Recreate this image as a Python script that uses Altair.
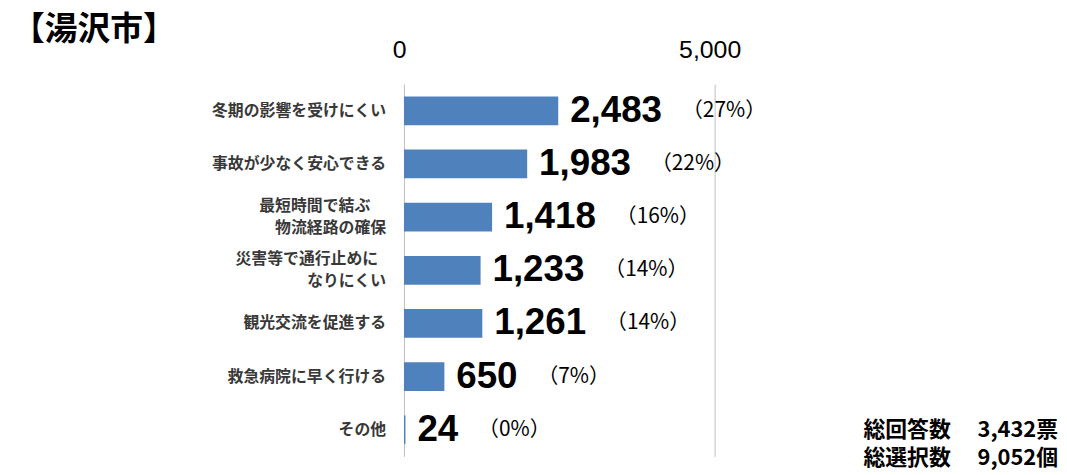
import altair as alt
import pandas as pd

categories = [
    "冬期の影響を受けにくい",
    "事故が少なく安心できる",
    "最短時間で結ぶ\u3000\n物流経路の確保",
    "災害等で通行止めに\u2002\nなりにくい",
    "観光交流を促進する",
    "救急病院に早く行ける",
    "その他",
]
values = [2483, 1983, 1418, 1233, 1261, 650, 24]
percents = ["27%", "22%", "16%", "14%", "14%", "7%", "0%"]
x_ticks = [0, 5000]
title_text = "【湯沢市】"
notes = ["総回答数\u3000 3,432票", "総選択数\u3000 9,052個"]

df = pd.DataFrame({"cat": categories, "value": values, "pct": percents})

JP = "Noto Sans CJK JP"
NUM = "Liberation Sans"
LABEL_FS = 16

x_enc = alt.X("value:Q", scale=alt.Scale(domain=[0, 5000], nice=False),
              axis=alt.Axis(orient="top", values=x_ticks, title=None,
                            labelExpr="format(datum.value, ',')",
                            labelFont=NUM, labelFontSize=25, labelColor="#000000",
                            labelPadding=22, labelFlush=False, labelOffset=-5,
                            ticks=False, domain=False,
                            grid=True, gridColor="#bfbfbf", gridWidth=1))
y_enc = alt.Y("cat:N", sort=None, title=None,
              scale=alt.Scale(paddingInner=0.46, paddingOuter=0.23),
              axis=alt.Axis(labels=False, ticks=False, domain=False, grid=False))

base = alt.Chart(df).encode(x=x_enc, y=y_enc)

bars = base.mark_bar(color="#4f81bd")

lines = base.transform_calculate(
    l1="split(datum.cat, '\\n')[0]",
    l2="length(split(datum.cat, '\\n')) > 1 ? split(datum.cat, '\\n')[1] : ''",
    nl="length(split(datum.cat, '\\n'))",
    trail="test(/\\u3000/, datum.cat) ? 1 : (test(/\\u2002/, datum.cat) ? 0.5 : 0)",
).transform_calculate(
    t1="trim(datum.l1)",
)

line1 = lines.mark_text(
    align="right", baseline="middle", font=JP, fontWeight="bold",
    fontSize=LABEL_FS, color="#383838",
    dx=alt.ExprRef(f"-{LABEL_FS} * datum.trail"),
    dy=alt.ExprRef("-11 * (datum.nl - 1)"),
).encode(x=alt.value(-18), text="t1:N")

line2 = lines.transform_filter("datum.nl > 1").mark_text(
    align="right", baseline="middle", font=JP, fontWeight="bold",
    fontSize=LABEL_FS, color="#383838", dy=11,
).encode(x=alt.value(-18), text="l2:N")

val_text = base.transform_calculate(
    vlabel="format(datum.value, ',')"
).mark_text(align="left", baseline="middle", dx=12, font=NUM, fontWeight="bold",
            fontSize=37, color="#000000").encode(text="vlabel:N")

off_expr = ("12 + 20.6*length(replace(format(datum.value, ','), ',', '')) + "
            "10.3*(length(format(datum.value, ',')) - length(replace(format(datum.value, ','), ',', ''))) + 20")

pct_text = base.transform_calculate(
    plabel="'（' + datum.pct + '）'",
).mark_text(align="left", baseline="middle", font=JP, fontSize=21,
            color="#000000", dx=alt.ExprRef(off_expr)).encode(text="plabel:N")

title = alt.Chart(pd.DataFrame({"t": [title_text]})).mark_text(
    align="left", baseline="middle", font=JP, fontWeight="bold", fontSize=33,
    color="#000000").encode(x=alt.value(-395), y=alt.value(-55), text="t:N")

note1 = alt.Chart(pd.DataFrame({"t": [notes[0]]})).mark_text(
    align="right", baseline="middle", font=JP, fontWeight="bold", fontSize=22,
    color="#000000").encode(x=alt.value(659), y=alt.value(348), text="t:N")
note2 = alt.Chart(pd.DataFrame({"t": [notes[1]]})).mark_text(
    align="right", baseline="middle", font=JP, fontWeight="bold", fontSize=22,
    color="#000000").encode(x=alt.value(659), y=alt.value(377), text="t:N")

chart = alt.layer(bars, line1, line2, val_text, pct_text, title, note1, note2).properties(
    width=313, height=375,
    padding={"left": 399, "top": 75, "right": 347, "bottom": 16},
    autosize=alt.AutoSizeParams(type="none"),
    background="#ffffff",
).configure_view(stroke=None)

chart.save("out.html", embed_options={"renderer": "svg", "actions": False})
